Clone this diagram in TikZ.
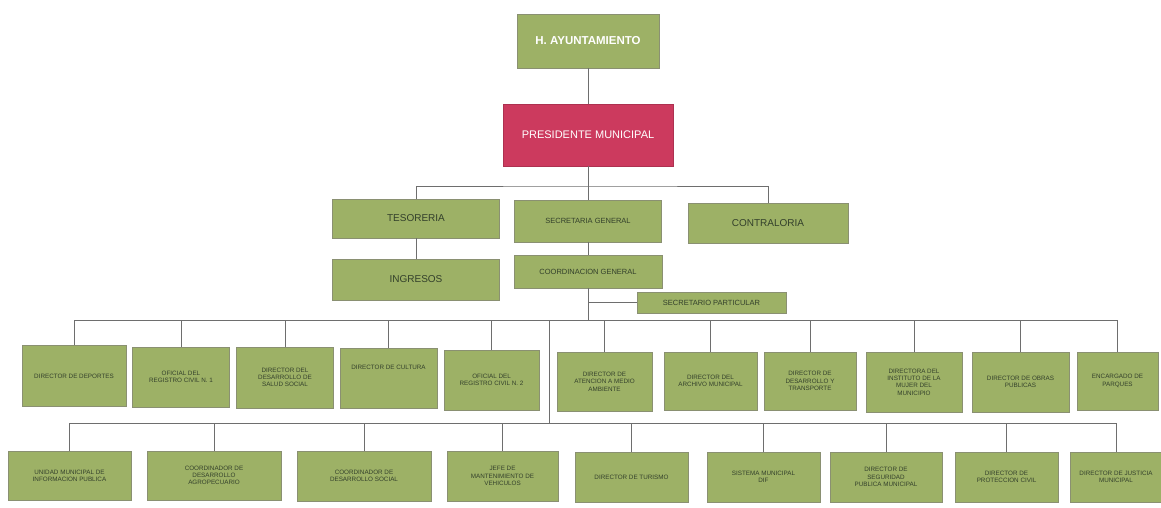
\documentclass[tikz,border=0pt]{standalone}
\usepackage{fontspec}
\setmainfont{Liberation Sans}
\definecolor{boxfill}{HTML}{9DB166}
\definecolor{boxedge}{HTML}{8A9072}
\definecolor{boxtext}{HTML}{33402B}
\definecolor{presfill}{HTML}{CC3A5E}
\definecolor{lineclr}{HTML}{6E6E6E}
\begin{document}
\begin{tikzpicture}[x=1pt,y=-1pt,
  orgbox/.style={draw=boxedge, line width=0.8pt, fill=boxfill, inner sep=1pt, align=center,
    text=boxtext, font=\fontsize{6.3}{7.3}\selectfont},
  midbox/.style={orgbox, font=\fontsize{7.5}{9}\selectfont},
  bigbox/.style={orgbox, font=\fontsize{10}{12}\selectfont},
  topbox/.style={orgbox, text=white, font=\bfseries\fontsize{11.5}{13}\selectfont},
  presbox/.style={orgbox, fill=presfill, draw=presfill!85!black, text=white, font=\fontsize{11}{13}\selectfont},
  conn/.style={draw=lineclr, line width=0.7pt}]
\fill[white] (0,0) rectangle (1161,507);
\useasboundingbox (0,0) rectangle (1161,507);
% top column
\node[topbox, minimum width=142, minimum height=54] (ha) at (588,41) {H. AYUNTAMIENTO};
\node[presbox, minimum width=170, minimum height=62] (pm) at (588,135) {PRESIDENTE MUNICIPAL};
\node[bigbox, minimum width=167, minimum height=39] (tes) at (416,218.5) {TESORERIA};
\node[midbox, minimum width=147, minimum height=42] (sec) at (588,221) {SECRETARIA GENERAL};
\node[bigbox, minimum width=160, minimum height=40] (con) at (768,223) {CONTRALORIA};
\node[bigbox, minimum width=167, minimum height=41] (ing) at (416,279.5) {INGRESOS};
\node[midbox, minimum width=148, minimum height=33] (coord) at (588,271.5) {COORDINACION GENERAL};
\node[midbox, minimum width=149, minimum height=21] (spart) at (711.5,302.5) {SECRETARIO PARTICULAR};
% row 3
\node[orgbox, minimum width=104, minimum height=61] (r1) at (74,376) {DIRECTOR DE DEPORTES};
\node[orgbox, minimum width=97, minimum height=60] (r2) at (181,377) {OFICIAL DEL\\REGISTRO CIVIL N. 1};
\node[orgbox, minimum width=97, minimum height=61] (r3) at (285,377.5) {DIRECTOR DEL\\DESARROLLO DE\\SALUD SOCIAL};
\node[orgbox, minimum width=97, minimum height=60] (r4) at (388.5,378) {DIRECTOR DE CULTURA\\[14pt]\ };
\node[orgbox, minimum width=95, minimum height=60] (r5) at (491.5,380) {OFICIAL DEL\\REGISTRO CIVIL N. 2};
\node[orgbox, minimum width=95, minimum height=59] (r6) at (604.5,381.5) {DIRECTOR DE\\ATENCION A MEDIO\\AMBIENTE};
\node[orgbox, minimum width=93, minimum height=58] (r7) at (710.5,381) {DIRECTOR DEL\\ARCHIVO MUNICIPAL};
\node[orgbox, minimum width=92, minimum height=58] (r8) at (810,381) {DIRECTOR DE\\DESARROLLO Y\\TRANSPORTE};
\node[orgbox, minimum width=96, minimum height=60] (r9) at (914,382) {DIRECTORA DEL\\INSTITUTO DE LA\\MUJER DEL\\MUNICIPIO};
\node[orgbox, minimum width=97, minimum height=60] (r10) at (1020.5,382) {DIRECTOR DE OBRAS\\PUBLICAS};
\node[orgbox, minimum width=81, minimum height=58] (r11) at (1117.5,381) {ENCARGADO DE\\PARQUES};
% row 4
\node[orgbox, minimum width=123, minimum height=49] (q1) at (69.5,475.5) {UNIDAD MUNICIPAL DE\\INFORMACION PUBLICA};
\node[orgbox, minimum width=134, minimum height=49] (q2) at (214,475.5) {COORDINADOR DE\\DESARROLLO\\AGROPECUARIO};
\node[orgbox, minimum width=134, minimum height=50] (q3) at (364,476) {COORDINADOR DE\\DESARROLLO SOCIAL};
\node[orgbox, minimum width=111, minimum height=50] (q4) at (502.5,476) {JEFE DE\\MANTENIMIENTO DE\\VEHICULOS};
\node[orgbox, minimum width=113, minimum height=50] (q5) at (631.5,477) {DIRECTOR DE TURISMO};
\node[orgbox, minimum width=113, minimum height=50] (q6) at (763.5,477) {SISTEMA MUNICIPAL\\DIF};
\node[orgbox, minimum width=112, minimum height=50] (q7) at (886,477) {DIRECTOR DE\\SEGURIDAD\\PUBLICA MUNICIPAL};
\node[orgbox, minimum width=103, minimum height=50] (q8) at (1006.5,477) {DIRECTOR DE\\PROTECCION CIVIL};
\node[orgbox, minimum width=92, minimum height=50] (q9) at (1116,477) {DIRECTOR DE JUSTICIA\\MUNICIPAL};
% connectors
\coordinate (b1) at (588,186);
\coordinate (b3) at (588,320);
\coordinate (b4a) at (549,320);
\coordinate (b4) at (549,423);
\draw[conn] (ha.south) -- (pm.north);
\draw[conn] (pm.south) -- (b1);
\draw[conn] (tes.north) |- (b1) -| (con.north);
\draw[conn] (b1) -- (sec.north);
\draw[conn] (tes.south) -- (ing.north);
\draw[conn] (sec.south) -- (coord.north);
\draw[conn] (coord.south) -- (b3);
\draw[conn] (coord.south |- spart.west) -- (spart.west);
\draw[conn] (r1.north) |- (b3);
\draw[conn] (b3) -| (r11.north);
\foreach \n in {r2,r3,r4,r5,r6,r7,r8,r9,r10}{
  \draw[conn] (\n.north |- b3) -- (\n.north);
}
\draw[conn] (b4a) -- (b4);
\draw[conn] (q1.north) |- (b4) -| (q9.north);
\foreach \n in {q2,q3,q4,q5,q6,q7,q8}{
  \draw[conn] (\n.north |- b4) -- (\n.north);
}
\end{tikzpicture}
\end{document}
